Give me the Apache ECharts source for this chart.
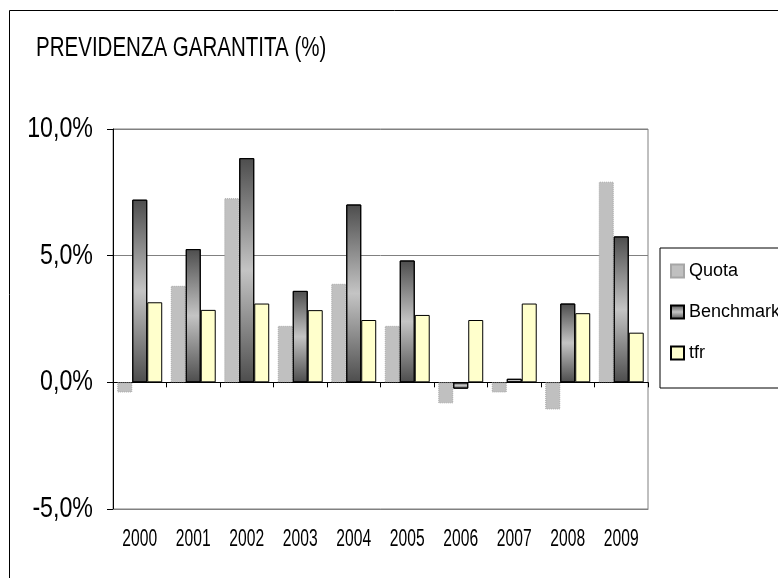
<!DOCTYPE html>
<html>
<head>
<meta charset="utf-8">
<title>Previdenza garantita</title>
<script src="https://cdn.jsdelivr.net/npm/echarts/dist/echarts.min.js"></script>
<style>
  html, body { margin: 0; padding: 0; background: #fff; }
  #chart { width: 778px; height: 578px; }
</style>
</head>
<body>
<div id="chart"></div>
<script>
// values, in percent
var years = ['2000', '2001', '2002', '2003', '2004', '2005', '2006', '2007', '2008', '2009']
var quota = [-0.4, 3.81, 7.27, 2.23, 3.89, 2.23, -0.83, -0.4, -1.07, 7.92]
var benchmark = [7.21, 5.26, 8.85, 3.61, 7.02, 4.81, -0.25, 0.14, 3.11, 5.76]
var tfr = [3.16, 2.86, 3.11, 2.85, 2.46, 2.66, 2.46, 3.11, 2.73, 1.96]
var yTicks = [-5, 0, 5, 10]

var font = "'Liberation Sans', Arial, sans-serif"
var gridLeft = 113

var chart = echarts.init(document.getElementById('chart'))

function pct(v) {
  return v.toFixed(1).replace('.', ',') + '%'
}

chart.setOption({
  animation: false,
  textStyle: { fontFamily: font, color: '#000' },
  legend: {
    orient: 'vertical',
    left: 660,
    top: 248,
    padding: [14, 14, 26, 10],
    itemGap: 23,
    itemWidth: 13,
    itemHeight: 13,
    borderColor: '#000',
    borderWidth: 1,
    icon: 'rect',
    textStyle: { fontFamily: font, fontSize: 18, color: '#000' },
    data: ['Quota', 'Benchmark', 'tfr']
  },
  grid: {
    left: gridLeft,
    right: 130,
    top: 129,
    bottom: 69,
    show: true,
    borderColor: '#808080',
    borderWidth: 1
  },
  xAxis: [
    {
      // bottom edge of the plot, carries no labels (drawn condensed below)
      type: 'category',
      data: years,
      position: 'bottom',
      axisLine: { onZero: false, lineStyle: { color: '#808080', width: 1 } },
      axisTick: { show: false },
      axisLabel: { show: false }
    },
    {
      // the black line at 0 with the ticks between years
      type: 'category',
      data: years,
      position: 'bottom',
      axisLine: { onZero: true, lineStyle: { color: '#000', width: 1 } },
      axisTick: { show: true, length: 5, lineStyle: { color: '#000' } },
      axisLabel: { show: false }
    }
  ],
  yAxis: {
    type: 'value',
    min: yTicks[0],
    max: yTicks[yTicks.length - 1],
    interval: 5,
    axisLine: { show: true, lineStyle: { color: '#000', width: 1 } },
    axisTick: { show: true, length: 6, lineStyle: { color: '#000' } },
    splitLine: { lineStyle: { color: '#808080', width: 1 } },
    axisLabel: { show: false }
  },
  series: [
    {
      name: 'Quota',
      type: 'bar',
      data: quota,
      barGap: '0%',
      barCategoryGap: '16%',
      itemStyle: {
        color: '#c0c0c0',
        borderColor: '#a6a6a6',
        borderWidth: 1,
        borderType: 'dotted'
      }
    },
    {
      name: 'Benchmark',
      type: 'bar',
      data: benchmark,
      barGap: '0%',
      barCategoryGap: '16%',
      itemStyle: {
        color: {
          type: 'linear',
          x: 0, y: 0, x2: 0, y2: 1,
          colorStops: [
            { offset: 0, color: '#4d4d4d' },
            { offset: 0.5, color: '#c4c4c4' },
            { offset: 1, color: '#4d4d4d' }
          ]
        },
        borderColor: '#000',
        borderWidth: 1
      }
    },
    {
      name: 'tfr',
      type: 'bar',
      data: tfr,
      barGap: '0%',
      barCategoryGap: '16%',
      itemStyle: {
        color: '#ffffcc',
        borderColor: '#000',
        borderWidth: 1
      }
    }
  ]
})

// the original uses a very narrow face, so texts are squeezed with scaleX,
// placed at the pixels the axes give for each year / tick
var graphics = [
  {
    type: 'rect',
    shape: { x: 9.5, y: 10.5, width: 1000, height: 1000 },
    style: { fill: 'none', stroke: '#000', lineWidth: 1 },
    silent: true,
    z: -1
  },
  {
    type: 'text',
    x: 36,
    y: 49,
    scaleX: 0.76,
    silent: true,
    style: {
      text: 'PREVIDENZA GARANTITA (%)',
      font: '27px ' + font,
      fill: '#000',
      align: 'left',
      verticalAlign: 'middle'
    }
  }
]

var plotBottom = chart.convertToPixel({ yAxisIndex: 0 }, yTicks[0])

yTicks.forEach(function (v) {
  graphics.push({
    type: 'text',
    x: gridLeft - 20,
    y: chart.convertToPixel({ yAxisIndex: 0 }, v),
    scaleX: 0.8,
    silent: true,
    style: {
      text: pct(v),
      font: '29px ' + font,
      fill: '#000',
      align: 'right',
      verticalAlign: 'middle'
    }
  })
})

years.forEach(function (y) {
  graphics.push({
    type: 'text',
    x: chart.convertToPixel({ xAxisIndex: 0 }, y),
    y: plotBottom + 31,
    scaleX: 0.68,
    silent: true,
    style: {
      text: y,
      font: '23px ' + font,
      fill: '#000',
      align: 'center',
      verticalAlign: 'middle'
    }
  })
})

chart.setOption({ graphic: graphics })
</script>
</body>
</html>
